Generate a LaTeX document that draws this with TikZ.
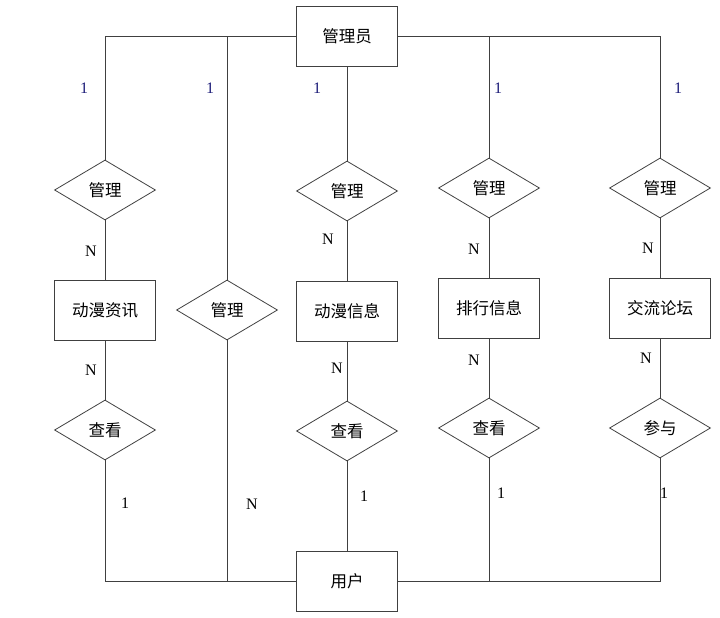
\documentclass[tikz,border=0pt]{standalone}
\usepackage{fontspec}
\usepackage{xcolor}
\usepackage{tikz}
\usetikzlibrary{shapes.geometric,positioning}
\setmainfont{Liberation Serif}
\newfontfamily\cjk{Noto Sans CJK SC}
\definecolor{LineColor}{HTML}{404040}
\definecolor{OneColor}{HTML}{1C1C78}

\begin{document}
\begin{tikzpicture}[
    x=1pt, y=-1pt,
    line width=0.8pt,
    link/.style={draw=LineColor},
    entity/.style={rectangle, draw=LineColor, minimum width=101pt, minimum height=60pt,
      font=\cjk\fontsize{16.5}{19}\selectfont},
    relation/.style={diamond, draw=LineColor, minimum width=101pt, minimum height=60pt,
      inner sep=0pt, font=\cjk\fontsize{16.5}{19}\selectfont},
    card/.style={font=\fontsize{16}{19}\selectfont, inner sep=1pt},
    one/.style={card, text=OneColor},
  ]
  \useasboundingbox (0,0) rectangle (720,618);
  % entities and relations
  \node[entity] (admin) at (347,36) {管理员};
  \node[relation] (manage1) at (105,190) {管理};
  \node[entity] (news) at (105,310) {动漫资讯};
  \node[relation] (view1) at (105,430) {查看};
  \node[relation] (manage2) at (227,310) {管理};
  \node[relation] (manage3) at (347,191) {管理};
  \node[entity] (info) at (347,311) {动漫信息};
  \node[relation] (view3) at (347,431) {查看};
  \node[entity] (user) at (347,581) {用户};
  \node[relation] (manage4) at (489,188) {管理};
  \node[entity] (rank) at (489,308) {排行信息};
  \node[relation] (view4) at (489,428) {查看};
  \node[relation] (manage5) at (660,188) {管理};
  \node[entity] (forum) at (660,308) {交流论坛};
  \node[relation] (join) at (660,428) {参与};
  % connections
  \draw[link] (admin) -| (manage1);
  \draw[link] (admin) -| (manage2);
  \draw[link] (admin) -- (manage3);
  \draw[link] (admin) -| (manage4);
  \draw[link] (admin) -| (manage5);
  \draw[link] (manage1) -- (news) -- (view1);
  \draw[link] (view1) |- (user);
  \draw[link] (manage2) |- (user);
  \draw[link] (manage3) -- (info) -- (view3) -- (user);
  \draw[link] (manage4) -- (rank) -- (view4);
  \draw[link] (view4) |- (user);
  \draw[link] (manage5) -- (forum) -- (join);
  \draw[link] (join) |- (user);
  % cardinalities
  \foreach \px/\py [count=\i] in {84/88, 210/88, 317/88, 498/88, 678/88}
    \node[one] (top\i) at (\px,\py) {1};
  \foreach \px/\py [count=\i] in {91/251, 328/239, 474/249, 648/248,
      91/370, 337/368, 474/360, 646/358, 252/504}
    \node[card] (many\i) at (\px,\py) {N};
  \foreach \px/\py [count=\i] in {125/503, 364/496, 501/493, 664/493}
    \node[card] (bottom\i) at (\px,\py) {1};
\end{tikzpicture}
\end{document}
